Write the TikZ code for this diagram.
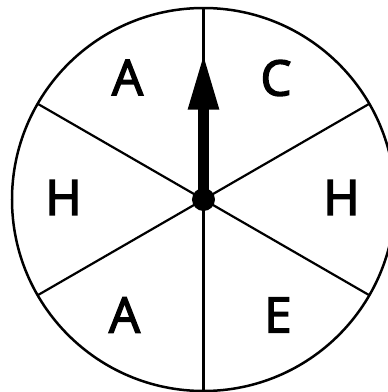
\documentclass[tikz,border=0pt]{standalone}
\usepackage{fontspec}
\setmainfont{Open Sans}
\newfontfamily\spinfont{Open Sans}[FakeBold=3]
\usetikzlibrary{arrows.meta}
\begin{document}
\begin{tikzpicture}[x=1pt, y=1pt, line width=2.2pt,
  letter/.style={font=\fontsize{49}{49}\spinfont, inner sep=0pt}]
\useasboundingbox (-203.5,-192.5) rectangle (184.5,199.5);
% Hub
\node[circle, fill, inner sep=0pt, minimum size=23pt] (hub) at (0,0) {};
% Rim and spokes
\draw[line width=2.5pt] (hub.center) circle (191.5);
\foreach \a in {30,90,...,330}
  \draw (hub.center) -- (\a:191.5);
% Sector letters
\node[letter] (tl) at (-76,122) {A};
\node[letter] (tr) at (72.5,121.5) {C};
\node[letter] (ml) at (-140,2) {H};
\node[letter] (mr) at (138,2) {H};
\node[letter] (bl) at (-79,-115.5) {A};
\node[letter] (br) at (74.5,-115.5) {E};
% Pointer
\coordinate (tip) at (0,147);
\draw[line width=11pt, -{Triangle[length=57pt, width=28pt]}] (hub.center) -- (tip);
\end{tikzpicture}
\end{document}
